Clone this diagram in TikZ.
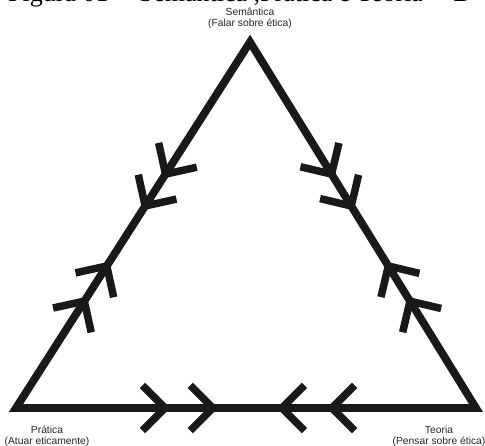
\documentclass[tikz,border=0pt]{standalone}
\usepackage{fontspec}
\setmainfont{Liberation Sans}
\newfontfamily\titleserif{Liberation Serif}
\usetikzlibrary{calc}
\tikzset{
  edge/.style={line width=7.8pt, line join=miter, miter limit=10, draw=black!90},
  chevron/.style={line width=7.5pt, line join=miter, miter limit=10, line cap=butt, draw=black!90},
  lbl/.style={align=center, inner sep=0pt, font=\fontsize{10.3}{11}\selectfont, text=black!85},
}
\newcommand\chev[4]{%
  \coordinate (#1) at ($(#2)!#4!(#3)$);
  \draw[chevron] ($(#1)!32pt!45:(#2)$) -- (#1) -- ($(#1)!32pt!-45:(#2)$);
}
\begin{document}
\begin{tikzpicture}[x=1pt,y=-1pt]
\useasboundingbox (0,0) rectangle (485,445);
\clip (0,0) rectangle (485,445);
% cut-off title
\node[anchor=base west, inner sep=0pt, font=\titleserif\fontsize{26}{26}\selectfont] (title) at (8,1) {Figura 01 -- Semântica ,Prática e Teoria -- D};
% vertices
\coordinate (S) at (250,42);
\coordinate (P) at (16,408);
\coordinate (T) at (476,408);
\draw[edge] (S) -- (P) -- (T) -- cycle;
% left side
\chev{l1}{S}{P}{0.361}
\chev{l2}{S}{P}{0.448}
\chev{l3}{P}{S}{0.292}
\chev{l4}{P}{S}{0.388}
% right side
\chev{r1}{S}{T}{0.361}
\chev{r2}{S}{T}{0.448}
\chev{r3}{T}{S}{0.292}
\chev{r4}{T}{S}{0.388}
% bottom
\chev{b1}{P}{T}{0.324}
\chev{b2}{P}{T}{0.428}
\chev{b3}{T}{P}{0.422}
\chev{b4}{T}{P}{0.313}
% labels
\node[lbl] (sem) at (250,18) {Semântica\\(Falar sobre ética)};
\node[lbl] (pra) at (47,436) {Prática\\(Atuar eticamente)};
\node[lbl] (teo) at (439,436) {Teoria\\(Pensar sobre ética)};
\end{tikzpicture}
\end{document}
